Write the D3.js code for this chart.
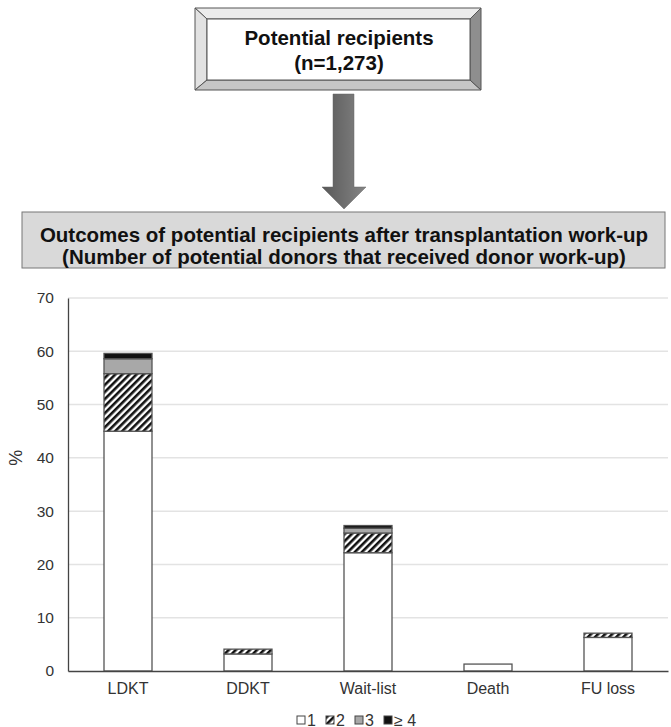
<!DOCTYPE html>
<html>
<head>
<meta charset="utf-8">
<script src="https://cdn.jsdelivr.net/npm/d3@7"></script>
<style>
  body { margin: 0; background: #fff; }
  text { font-family: Arial, "Liberation Sans", sans-serif; }
</style>
</head>
<body>
<div id="chart"></div>
<script>
var categories = ["LDKT", "DDKT", "Wait-list", "Death", "FU loss"];
var seriesNames = ["1", "2", "3", "\u2265 4"];
var donors1 = [45, 3.2, 22.2, 1.3, 6.3];
var donors2 = [10.8, 0.9, 3.7, 0, 0.8];
var donors3 = [2.8, 0, 0.9, 0, 0];
var donors4 = [1.0, 0, 0.5, 0, 0];
var yTicks = [0, 10, 20, 30, 40, 50, 60, 70];

var wi = 671;
var he = 727;

var svg = d3.select("#chart")
  .append("svg")
  .attr("width", wi)
  .attr("height", he);

var defs = svg.append("defs");

// hatch for "2"
var hatch = defs.append("pattern")
  .attr("id", "hatch")
  .attr("patternUnits", "userSpaceOnUse")
  .attr("width", 5)
  .attr("height", 5)
  .attr("patternTransform", "rotate(45)");
hatch.append("rect").attr("width", 5).attr("height", 5).attr("fill", "#fff");
hatch.append("rect").attr("width", 2.6).attr("height", 5).attr("fill", "#111");

var grad = defs.append("linearGradient")
  .attr("id", "arrowGrad")
  .attr("x1", "0%").attr("x2", "100%").attr("y1", "0%").attr("y2", "0%");
grad.append("stop").attr("offset", "0%").attr("stop-color", "#585858");
grad.append("stop").attr("offset", "100%").attr("stop-color", "#858585");

// ---- top bevelled box ----
var ox0 = 195, ox1 = 481, oy0 = 8, oy1 = 90;
var ix0 = 207, ix1 = 470, iy0 = 19, iy1 = 80;
var bevel = svg.append("g").attr("stroke", "#555").attr("stroke-width", 1);
bevel.append("polygon")
  .attr("points", [[ox0, oy0], [ox1, oy0], [ix1, iy0], [ix0, iy0]].join(" "))
  .attr("fill", "#ececec");
bevel.append("polygon")
  .attr("points", [[ox0, oy0], [ix0, iy0], [ix0, iy1], [ox0, oy1]].join(" "))
  .attr("fill", "#e2e2e2");
bevel.append("polygon")
  .attr("points", [[ox0, oy1], [ix0, iy1], [ix1, iy1], [ox1, oy1]].join(" "))
  .attr("fill", "#c6c6c6");
bevel.append("polygon")
  .attr("points", [[ox1, oy0], [ox1, oy1], [ix1, iy1], [ix1, iy0]].join(" "))
  .attr("fill", "#8e8e8e");
bevel.append("rect")
  .attr("x", ix0).attr("y", iy0)
  .attr("width", ix1 - ix0).attr("height", iy1 - iy0)
  .attr("fill", "#fff");

svg.append("text")
  .attr("x", 339).attr("y", 45)
  .attr("text-anchor", "middle")
  .attr("font-size", 20.5).attr("font-weight", "bold").attr("fill", "#111")
  .text("Potential recipients");
svg.append("text")
  .attr("x", 339).attr("y", 70)
  .attr("text-anchor", "middle")
  .attr("font-size", 20.5).attr("font-weight", "bold").attr("fill", "#111")
  .text("(n=1,273)");

// ---- arrow ----
svg.append("polygon")
  .attr("points", [[333, 94], [354, 94], [354, 187], [366, 187], [344, 209], [322, 187], [333, 187]].join(" "))
  .attr("fill", "url(#arrowGrad)")
  .attr("stroke", "#666")
  .attr("stroke-width", 0.5);

// ---- second box ----
svg.append("rect")
  .attr("x", 22).attr("y", 212)
  .attr("width", 643).attr("height", 56)
  .attr("fill", "#d9d9d9")
  .attr("stroke", "#777")
  .attr("stroke-width", 1);
svg.append("text")
  .attr("x", 344).attr("y", 242)
  .attr("text-anchor", "middle")
  .attr("font-size", 20.5).attr("font-weight", "bold").attr("fill", "#111")
  .text("Outcomes of potential recipients after transplantation work-up");
svg.append("text")
  .attr("x", 344).attr("y", 264)
  .attr("text-anchor", "middle")
  .attr("font-size", 20.5).attr("font-weight", "bold").attr("fill", "#111")
  .text("(Number of potential donors that received donor work-up)");

// ---- chart ----
var x0 = 68, x1 = 668, yTop = 298, yBot = 671;

var xScale = d3.scaleBand()
  .domain(categories)
  .range([x0, x1])
  .paddingInner(0.6)
  .paddingOuter(0.3);
var yScale = d3.scaleLinear()
  .domain([0, 70])
  .range([yBot, yTop]);

// grid
svg.append("g")
  .selectAll("line")
  .data(yTicks.slice(1))
  .enter()
  .append("line")
  .attr("x1", x0).attr("x2", x1)
  .attr("y1", function(d) { return yScale(d); })
  .attr("y2", function(d) { return yScale(d); })
  .attr("stroke", "#e3e3e3")
  .attr("stroke-width", 1.5);

var table = categories.map(function(c, i) {
  return { cat: c, s0: donors1[i], s1: donors2[i], s2: donors3[i], s3: donors4[i] };
});
var stack = d3.stack().keys(["s0", "s1", "s2", "s3"])(table);
var fills = ["#fff", "url(#hatch)", "#a8a8a8", "#111"];

svg.append("g")
  .selectAll("g")
  .data(stack)
  .enter()
  .append("g")
  .attr("fill", function(d, i) { return fills[i]; })
  .selectAll("rect")
  .data(function(d) { return d.filter(function(p) { return p[1] - p[0] > 0; }); })
  .enter()
  .append("rect")
  .attr("x", function(d) { return xScale(d.data.cat); })
  .attr("width", xScale.bandwidth())
  .attr("y", function(d) { return yScale(d[1]); })
  .attr("height", function(d) { return yScale(d[0]) - yScale(d[1]); })
  .attr("stroke", "#555")
  .attr("stroke-width", 1.3);

// axes
var yAxis = d3.axisLeft(yScale)
  .tickValues(yTicks)
  .tickSize(0)
  .tickPadding(14);
var gy = svg.append("g")
  .attr("transform", "translate(" + x0 + ",0)")
  .call(yAxis);
gy.select(".domain").attr("stroke", "#444").attr("stroke-width", 1.3);
gy.selectAll("text").attr("font-size", 15.5).attr("fill", "#333")
  .style("font-family", "Arial, 'Liberation Sans', sans-serif");

var xAxis = d3.axisBottom(xScale)
  .tickSize(0)
  .tickPadding(12);
var gx = svg.append("g")
  .attr("transform", "translate(0," + yBot + ")")
  .call(xAxis);
gx.select(".domain").attr("stroke", "#444").attr("stroke-width", 1.3);
gx.selectAll("text").attr("font-size", 16).attr("fill", "#333")
  .style("font-family", "Arial, 'Liberation Sans', sans-serif");

svg.append("text")
  .attr("transform", "translate(22," + yScale(40) + ") rotate(-90)")
  .attr("text-anchor", "middle")
  .attr("font-size", 18).attr("fill", "#333")
  .text("%");

// legend
var legX = [297, 326, 355, 384];
var leg = svg.append("g")
  .selectAll("g")
  .data(seriesNames)
  .enter()
  .append("g")
  .attr("transform", function(d, i) { return "translate(" + legX[i] + ",716)"; });
leg.append("rect")
  .attr("width", 8).attr("height", 8)
  .attr("fill", function(d, i) { return fills[i]; })
  .attr("stroke", "#444").attr("stroke-width", 1);
leg.append("text")
  .attr("x", 10).attr("y", 9.5)
  .attr("font-size", 16).attr("fill", "#333")
  .text(function(d) { return d; });
</script>
</body>
</html>
